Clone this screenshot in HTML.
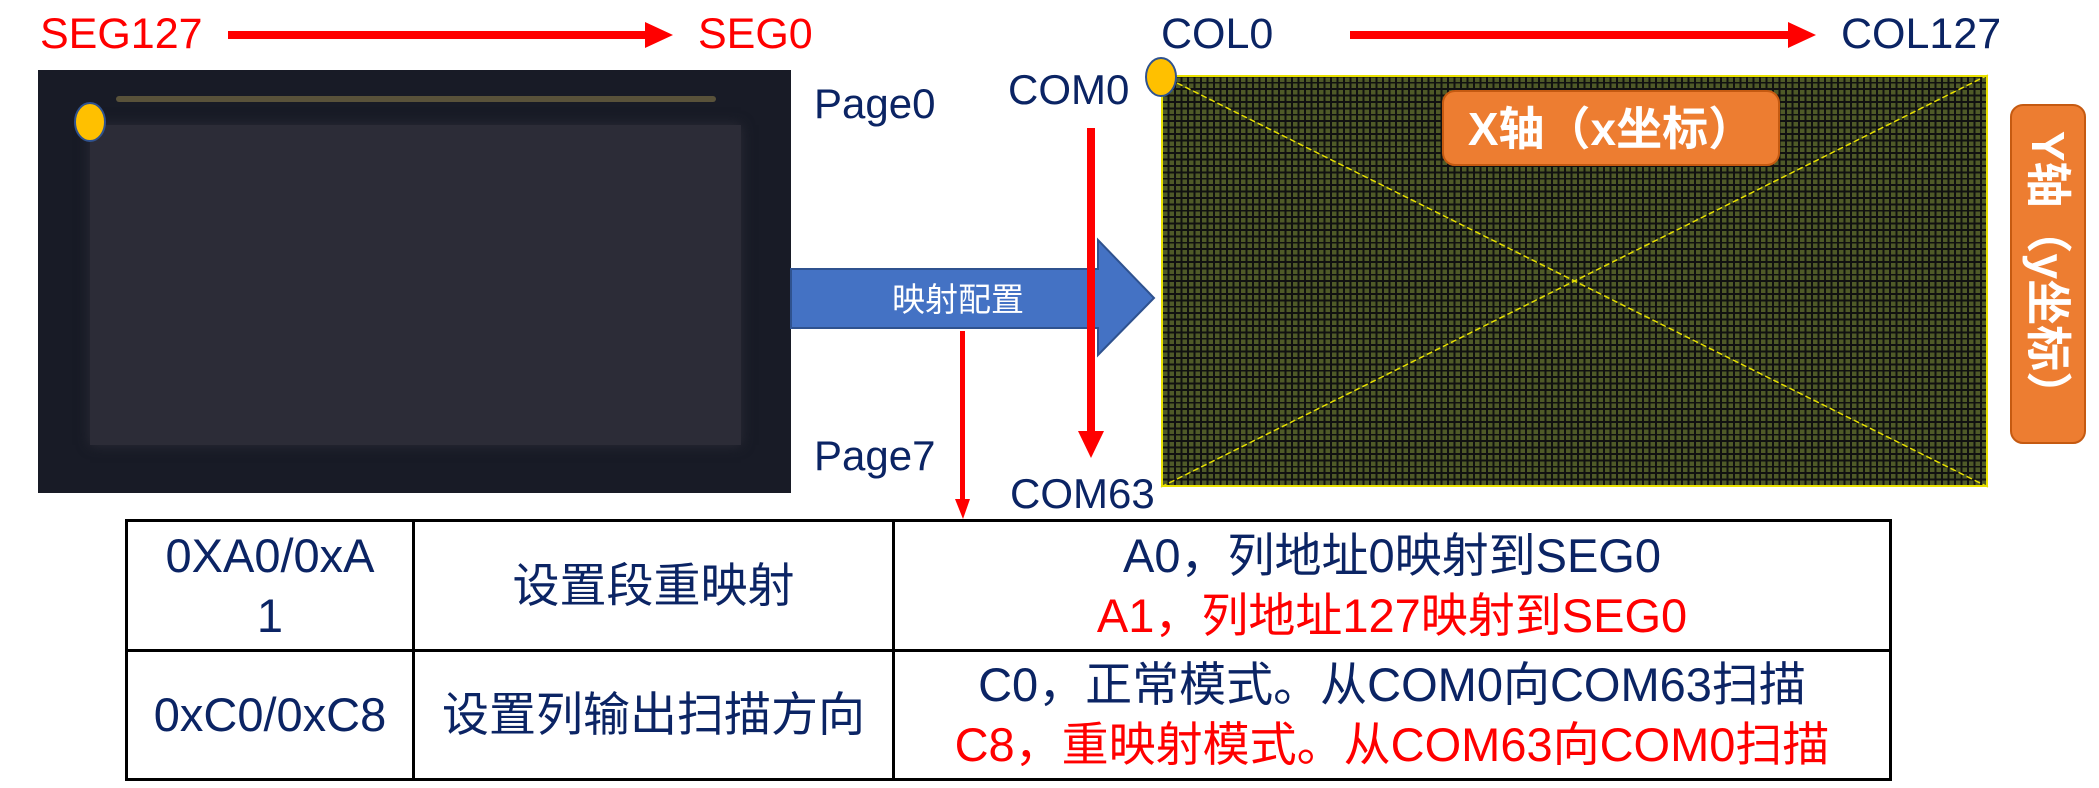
<!DOCTYPE html>
<html><head><meta charset="utf-8"><style>
body{margin:0;width:2099px;height:788px;background:#fff;position:relative;overflow:hidden;font-family:"Liberation Sans","Noto Sans CJK SC",sans-serif;}
.t{position:absolute;white-space:nowrap;line-height:1;}
.navy{color:#0b2464}
.red{color:#ff0000}
.a{position:absolute}
table{position:absolute;left:125px;top:519px;border-collapse:collapse;font-size:47px;color:#0b2464;}
td{border:3px solid #000;text-align:center;padding:0;line-height:60px;}
</style></head><body>
<div class="t red" style="left:40px;top:13px;font-size:43px">SEG127</div>
<div class="t red" style="left:698px;top:13px;font-size:43px">SEG0</div>
<div class="t navy" style="left:1161px;top:13px;font-size:43px">COL0</div>
<div class="t navy" style="left:1841px;top:13px;font-size:43px">COL127</div>
<div class="t navy" style="left:1008px;top:69px;font-size:42px">COM0</div>
<div class="t navy" style="left:1010px;top:473px;font-size:42px">COM63</div>
<div class="t navy" style="left:814px;top:83px;font-size:42px">Page0</div>
<div class="t navy" style="left:814px;top:435px;font-size:42px">Page7</div>

<div class="a" style="left:38px;top:70px;width:753px;height:423px;background:#181b26;"></div>
<div class="a" style="left:90px;top:125px;width:651px;height:320px;background:#2c2c37;box-shadow:0 0 12px #2c2c37"></div>
<div class="a" style="left:116px;top:96px;width:600px;height:6px;background:#6a6040;border-radius:3px;opacity:.8"></div>

<div class="a" style="left:1161px;top:75px;width:827px;height:412px;border:2px solid #e8e000;box-sizing:border-box;background-color:#4f5a28;background-image:repeating-linear-gradient(90deg,transparent 0 4.5px,#111 4.5px 6.5px),repeating-linear-gradient(0deg,transparent 0 4.5px,#111 4.5px 6.4px);"></div>

<svg class="a" style="left:0;top:0" width="2099" height="788">
<line x1="1161" y1="75" x2="1988" y2="487" stroke="#e8e000" stroke-width="1.5" stroke-dasharray="6 3"/>
<line x1="1988" y1="75" x2="1161" y2="487" stroke="#e8e000" stroke-width="1.5" stroke-dasharray="6 3"/>
<polygon points="791,269 1098,269 1098,240 1154,298 1098,355 1098,328 791,328" fill="#4472c4" stroke="#2f528f" stroke-width="2"/>
<text x="958" y="311" font-size="33" fill="#fff" text-anchor="middle" font-family="Liberation Sans,Noto Sans CJK SC,sans-serif">映射配置</text>
<rect x="228" y="31" width="420" height="8" fill="#f00"/><polygon points="645,22 673,35 645,48" fill="#f00"/>
<rect x="1350" y="31" width="440" height="8" fill="#f00"/><polygon points="1788,22 1816,35 1788,48" fill="#f00"/>
<rect x="1087" y="128" width="8" height="305" fill="#f00"/><polygon points="1078,431 1104,431 1091,458" fill="#f00"/>
<rect x="960" y="331" width="5" height="170" fill="#f00"/><polygon points="955,499 970,499 963,519" fill="#f00"/>
<ellipse cx="90" cy="122" rx="15" ry="19" fill="#ffc000" stroke="#2f528f" stroke-width="2"/>
<ellipse cx="1161" cy="77" rx="15" ry="19" fill="#ffc000" stroke="#2f528f" stroke-width="2"/>
<rect x="1443" y="91" width="336" height="74" rx="12" fill="#ed7d31" stroke="#c55a11" stroke-width="2"/>
<text x="1611" y="145" font-size="46" font-weight="bold" fill="#fff" text-anchor="middle" font-family="Liberation Sans,Noto Sans CJK SC,sans-serif">X轴（x坐标）</text>
<rect x="2011" y="105" width="74" height="338" rx="12" fill="#ed7d31" stroke="#c55a11" stroke-width="2"/>
<text transform="translate(2032,274) rotate(90)" font-size="46" font-weight="bold" fill="#fff" text-anchor="middle" font-family="Liberation Sans,Noto Sans CJK SC,sans-serif">Y轴（y坐标）</text>
</svg>

<table>
<tr style="height:130px"><td style="width:284px">0XA0/0xA<br>1</td><td style="width:477px">设置段重映射</td><td style="width:994px">A0，列地址0映射到SEG0<br><span class="red">A1，列地址127映射到SEG0</span></td></tr>
<tr style="height:129px"><td>0xC0/0xC8</td><td>设置列输出扫描方向</td><td>C0，正常模式。从COM0向COM63扫描<br><span class="red">C8，重映射模式。从COM63向COM0扫描</span></td></tr>
</table>
</body></html>
